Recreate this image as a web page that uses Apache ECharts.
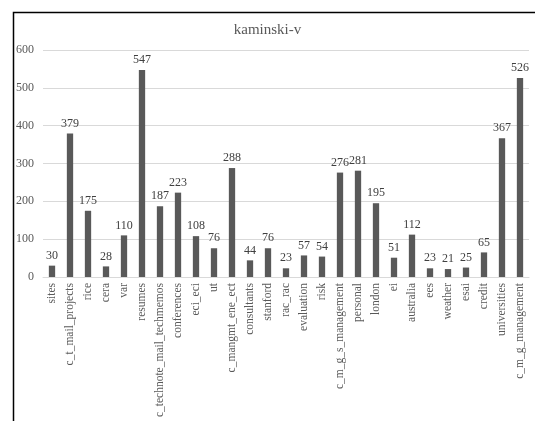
<!DOCTYPE html>
<html>
<head>
<meta charset="utf-8">
<script src="https://cdn.jsdelivr.net/npm/echarts@6/dist/echarts.min.js"></script>
<style>
  html, body { margin: 0; padding: 0; background: #fff; }
  #chart { width: 535px; height: 421px; }
</style>
</head>
<body>
<div id="chart"></div>
<script>
// Folder counts for kaminski-v
const categories = [
  'sites', 'c_t_mail_projects', 'rice', 'cera', 'var', 'resumes',
  'c_technote_mail_techmemos', 'conferences', 'eci_eci', 'ut',
  'c_mangmt_ene_ect', 'consultants', 'stanford', 'rac_rac', 'evaluation',
  'risk', 'c_m_g_s_management', 'personal', 'london', 'ei', 'australia',
  'ees', 'weather', 'esai', 'credit', 'universities', 'c_m_g_management'
];
const counts = [
  30, 379, 175, 28, 110, 547,
  187, 223, 108, 76,
  288, 44, 76, 23, 57,
  54, 276, 281, 195, 51, 112,
  23, 21, 25, 65, 367, 526
];
const yTicks = [0, 100, 200, 300, 400, 500, 600];

const FONT = '"Liberation Serif", "DejaVu Serif", serif';
const chart = echarts.init(document.getElementById('chart'), null, { renderer: 'canvas' });

chart.setOption({
  animation: false,
  backgroundColor: '#ffffff',
  title: {
    text: 'kaminski-v',
    left: 'center',
    top: 18,
    textStyle: { fontFamily: FONT, fontSize: 15, fontWeight: 'normal', color: '#595959' }
  },
  graphic: [{
    type: 'rect',
    left: 11, top: 10,
    shape: { width: 540, height: 430 },
    style: { fill: 'none', stroke: '#000', lineWidth: 1.5 },
    silent: true, z: 100
  }],
  grid: {
    left: 43, right: 6, top: 50, bottom: 144,
    containLabel: false, outerBoundsMode: 'none'
  },
  xAxis: {
    type: 'category',
    data: categories,
    axisLine: { show: true, lineStyle: { color: '#d9d9d9', width: 1 } },
    axisTick: { show: false },
    axisLabel: {
      rotate: 90, interval: 0, margin: 6,
      fontFamily: FONT, fontSize: 11.5, color: '#595959'
    }
  },
  yAxis: {
    type: 'value',
    min: yTicks[0], max: yTicks[yTicks.length - 1], interval: 100,
    axisLine: { show: false },
    axisTick: { show: false },
    splitLine: { lineStyle: { color: '#d9d9d9', width: 1 } },
    axisLabel: { margin: 9, fontFamily: FONT, fontSize: 12, color: '#595959' }
  },
  series: [{
    type: 'bar',
    data: counts,
    barWidth: '35%',
    itemStyle: { color: '#595959' },
    label: {
      show: true, position: 'top', distance: 4,
      fontFamily: FONT, fontSize: 12, color: '#404040'
    }
  }]
});
</script>
</body>
</html>
